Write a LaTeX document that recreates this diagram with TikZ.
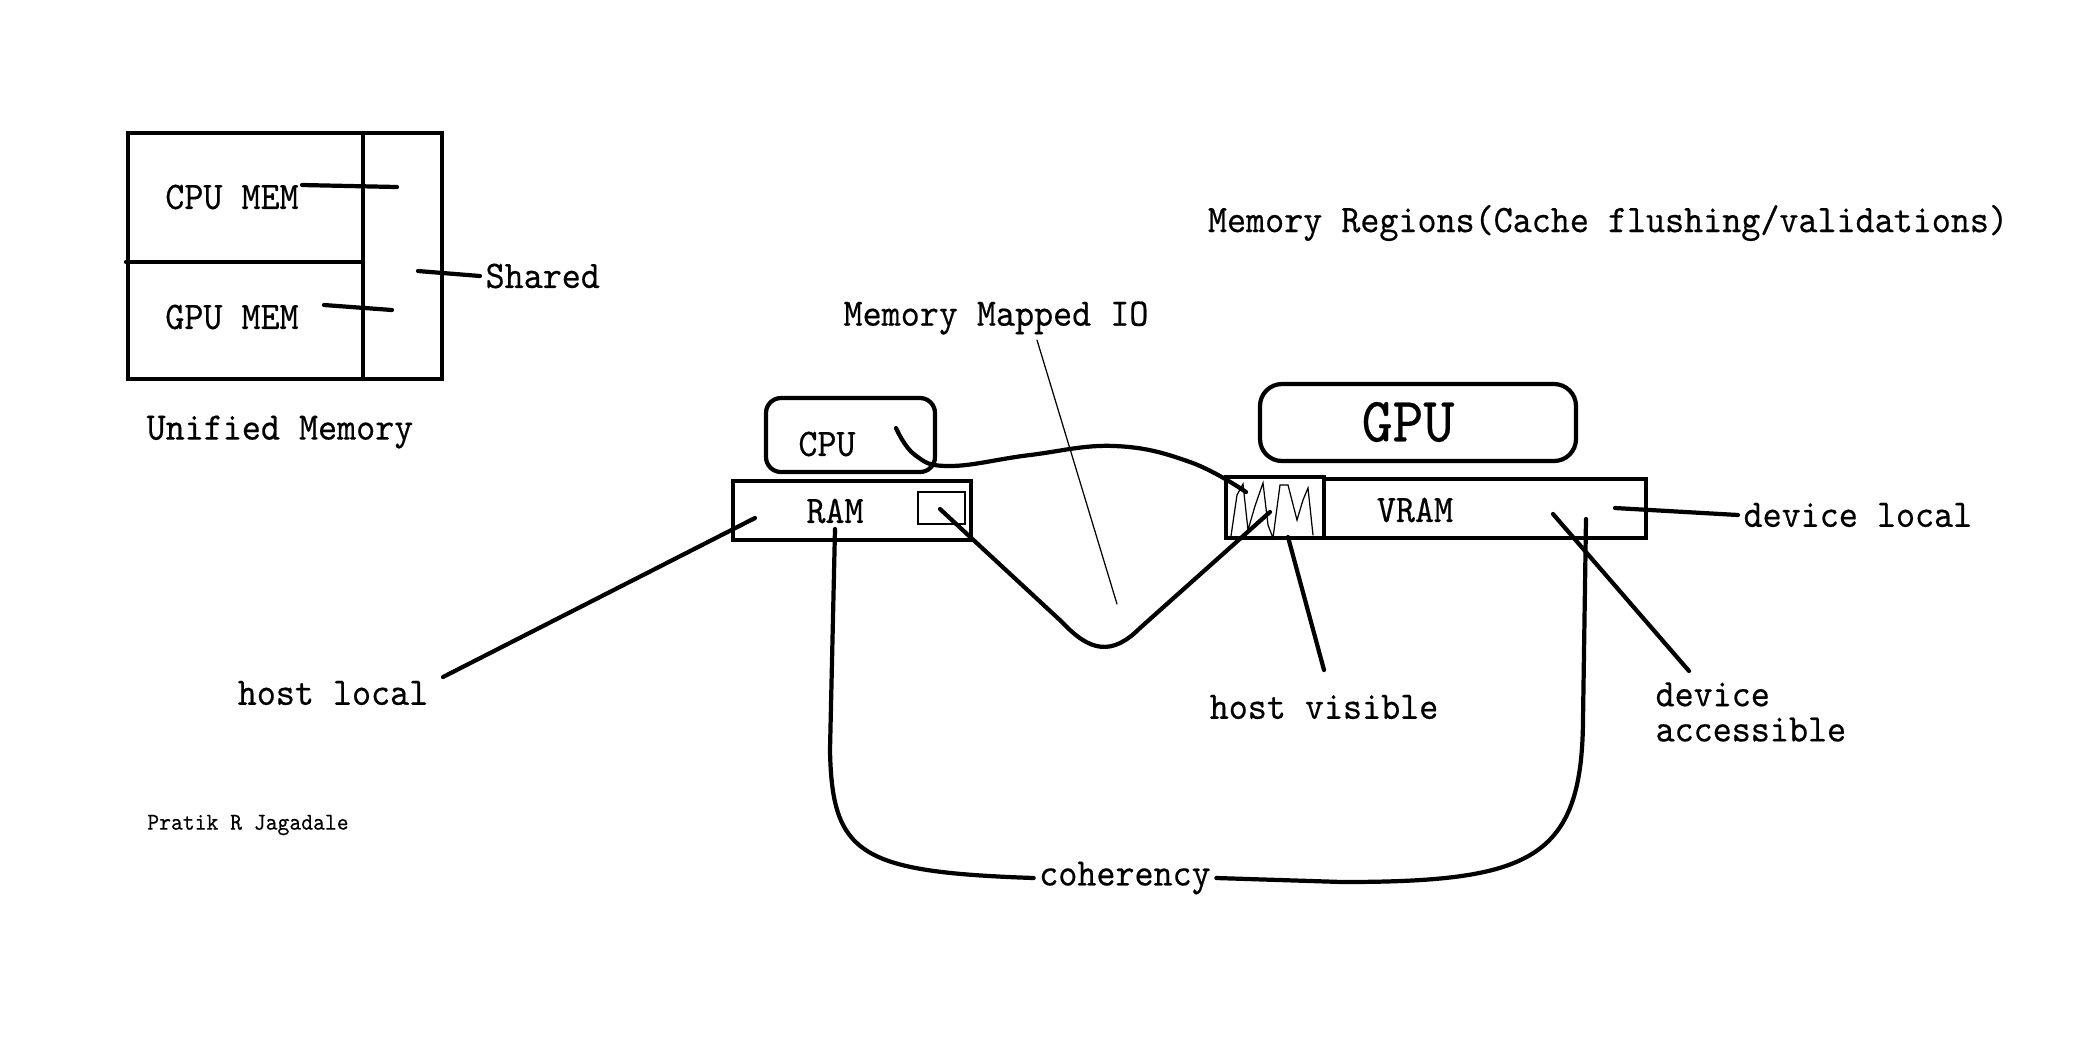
\documentclass[tikz,border=0pt]{standalone}
\usepackage{fontspec}
\setmonofont[FakeStretch=0.93, FakeBold=0.4]{lmmono10-regular.otf}
\begin{document}
\begin{tikzpicture}[x=1cm, y=-1cm, line width=1.2pt, line cap=round,
  font=\ttfamily\fontsize{11.1}{10}\selectfont,
  box/.style={draw, line width=1.2pt, inner sep=0pt, outer sep=0pt, anchor=north west},
  lbl/.style={inner sep=1pt},
  thinline/.style={line width=0.35pt}]
\useasboundingbox (0,0) rectangle (20.83,10.61);

% unified memory
\node[box, minimum width=3.14cm, minimum height=2.46cm] (umem) at (1.28,1.33) {};
\draw (3.63,1.35) -- (3.63,3.79);
\draw (1.26,2.62) -- (3.63,2.62);
\node[lbl] (cpumem) at (2.32,1.97) {CPU MEM};
\node[lbl] (gpumem) at (2.32,3.17) {GPU MEM};
\node[lbl, anchor=west] (shared) at (4.80,2.76) {Shared};
\node[lbl] (unified) at (2.80,4.32) {Unified Memory};
\draw (3.02,1.85) -- (3.97,1.87);
\draw (3.24,3.05) -- (3.92,3.10);
\draw (4.18,2.71) -- (shared.west);

\node[lbl] (regions) at (16.08,2.23) {Memory Regions(Cache flushing/validations)};
\node[lbl] (mmio) at (9.96,3.18) {Memory Mapped IO};
\node[lbl, font=\ttfamily\fontsize{6.9}{8}\selectfont] (author) at (2.48,8.25) {Pratik R Jagadale};

% host side
\node[box, rounded corners=0.15cm, minimum width=1.69cm, minimum height=0.74cm] (cpu) at (7.66,3.98) {};
\node[lbl] (cpulbl) at (8.27,4.44) {CPU};
\node[box, minimum width=2.38cm, minimum height=0.59cm] (ram) at (7.33,4.81) {};
\node[lbl] (ramlbl) at (8.35,5.11) {RAM};
\node[box, thinline, minimum width=0.47cm, minimum height=0.32cm] (mapped) at (9.18,4.92) {};

% device side
\node[box, rounded corners=0.22cm, minimum width=3.16cm, minimum height=0.77cm] (gpu) at (12.60,3.84) {};
\node[lbl, font=\ttfamily\fontsize{18}{18}\selectfont] (gpulbl) at (14.08,4.22) {GPU};
\node[box, minimum width=0.98cm, minimum height=0.61cm] (hvis) at (12.26,4.77) {};
\node[box, minimum width=3.22cm, minimum height=0.59cm] (vram) at (13.24,4.79) {};
\node[lbl] (vramlbl) at (14.15,5.10) {VRAM};
\draw[thinline] (12.31,5.36) -- (12.37,4.95) -- (12.43,4.84) -- (12.48,5.30) -- (12.55,5.06)
  -- (12.63,4.83) -- (12.68,5.25) -- (12.73,5.38) -- (12.80,4.85) -- (12.88,4.85)
  -- (12.97,5.20) -- (13.03,5.00) -- (13.08,4.88) -- (13.13,5.35);

% labels
\node[lbl] (hostlocal) at (3.33,6.93) {host local};
\node[lbl] (hostvis) at (13.24,7.07) {host visible};
\node[lbl, anchor=west] (devlocal) at (17.38,5.15) {device local};
\node[lbl, anchor=west, align=left] (devacc) at (16.50,7.12) {device\\accessible};
\node[lbl] (coherency) at (11.25,8.78) {coherency};

\draw (7.55,5.18) -- (4.43,6.77);
\draw (12.88,5.37) -- (13.24,6.70);
\draw (16.15,5.08) -- (devlocal.west);
\draw (15.53,5.14) -- (16.89,6.71);
\draw[thinline] (10.37,3.40) -- (11.17,6.04);

% cpu to host visible
\draw plot[smooth, tension=0.7] coordinates {(8.96,4.28) (9.15,4.55) (9.5,4.66) (10.3,4.55)
  (11.15,4.46) (11.9,4.62) (12.46,4.92)};
% mapped region
\draw (9.40,5.09) -- (10.62,6.22) .. controls (10.90,6.52) and (11.12,6.56) .. (11.40,6.28)
  -- (12.70,5.12);
% coherency
\draw (8.35,5.29) -- (8.30,7.50) .. controls (8.32,8.55) and (8.60,8.72) .. (coherency.west);
\draw (coherency.east) -- (13.42,8.82) .. controls (15.30,8.82) and (15.82,8.60) .. (15.83,7.20)
  -- (15.86,5.19);
\end{tikzpicture}
\end{document}
